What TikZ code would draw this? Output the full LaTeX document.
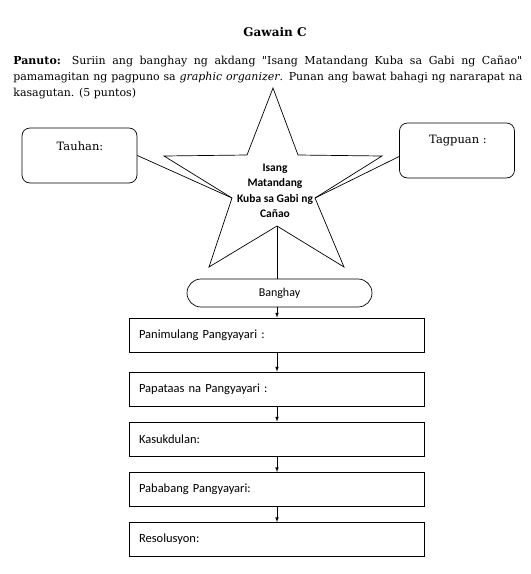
\documentclass[tikz,border=0pt]{standalone}
\usepackage{fontspec}
\setmainfont{DejaVu Serif}
\setsansfont{Carlito}
\usepackage{tikz}

\tikzset{
  infobox/.style={draw, rounded corners=8pt, minimum width=115pt, minimum height=55pt},
  eventbox/.style={draw, minimum width=295pt, minimum height=34pt, text width=275pt, inner xsep=10pt, align=left, font=\sffamily\fontsize{12.5}{14}\selectfont},
  flow/.style={-latex}
}

\begin{document}
\begin{tikzpicture}[x=1pt, y=-1pt, line width=0.7pt]
\useasboundingbox (0,0) rectangle (531,574);
% heading and directions
\node [font=\bfseries\fontsize{12}{14}\selectfont] (gawain) at (275,32) {Gawain C};
\node [anchor=north west, inner sep=0pt, text width=509pt, align=justify, font=\fontsize{11}{16}\selectfont] (panuto) at (13,56)
  {\makebox[509pt][s]{\textbf{Panuto:} Suriin ang banghay ng akdang \textquotedbl Isang Matandang Kuba sa Gabi ng Cañao\textquotedbl}\\
   \makebox[509pt][s]{pamamagitan ng pagpuno sa \textit{graphic organizer}. Punan ang bawat bahagi ng nararapat na}\\
   kasagutan. (5 puntos)};

% star
\coordinate (top) at (273,88);
\coordinate (tri) at (298,155);
\coordinate (rpt) at (382,156);
\coordinate (rin) at (315,198);
\coordinate (brt) at (344,267);
\coordinate (bin) at (277,226);
\coordinate (blt) at (209,267);
\coordinate (lin) at (232,198);
\coordinate (lpt) at (164,156);
\coordinate (tli) at (247,155);
\draw (top) -- (tri) -- (rpt) -- (rin) -- (brt) -- (bin) -- (blt) -- (lin) -- (lpt) -- (tli) -- cycle;
\node [font=\sffamily\bfseries\fontsize{11.5}{15.5}\selectfont, align=center] (kuba) at (275,191) {Isang\\Matandang\\Kuba sa Gabi ng\\Cañao};

% side boxes
\node [infobox] (tauhan) at (79.5,155.5) {};
\node [font=\fontsize{11.5}{14}\selectfont] (tauhanlbl) at (80,146) {Tauhan:};
\node [infobox] (tagpuan) at (457,150.5) {};
\node [font=\fontsize{11.5}{14}\selectfont] (tagpuanlbl) at (458,141) {Tagpuan :};
\draw (tauhan.east) -- (lin);
\draw ([yshift=-6pt]tagpuan.west) -- (rin);

% plot
\node [draw, rounded corners=14pt, minimum width=185pt, minimum height=28pt, font=\sffamily\fontsize{12}{14}\selectfont] (banghay) at (279.5,293) {Banghay};
\draw (bin) -- (bin |- banghay.north);
\node [eventbox] (simula) at (276.5,335) {Panimulang Pangyayari :};
\node [eventbox] (papataas) at (276.5,389) {Papataas na Pangyayari :};
\node [eventbox] (kasukdulan) at (276.5,439) {Kasukdulan:};
\node [eventbox] (pababa) at (276.5,489.5) {Pababang Pangyayari:};
\node [eventbox] (resolusyon) at (276.5,539.5) {Resolusyon:};
\draw [flow] (banghay.south -| bin) -- (simula.north -| bin);
\draw [flow] (simula.south -| bin) -- (papataas.north -| bin);
\draw [flow] (papataas.south -| bin) -- (kasukdulan.north -| bin);
\draw [flow] (kasukdulan.south -| bin) -- (pababa.north -| bin);
\draw [flow] (pababa.south -| bin) -- (resolusyon.north -| bin);
\end{tikzpicture}
\end{document}
